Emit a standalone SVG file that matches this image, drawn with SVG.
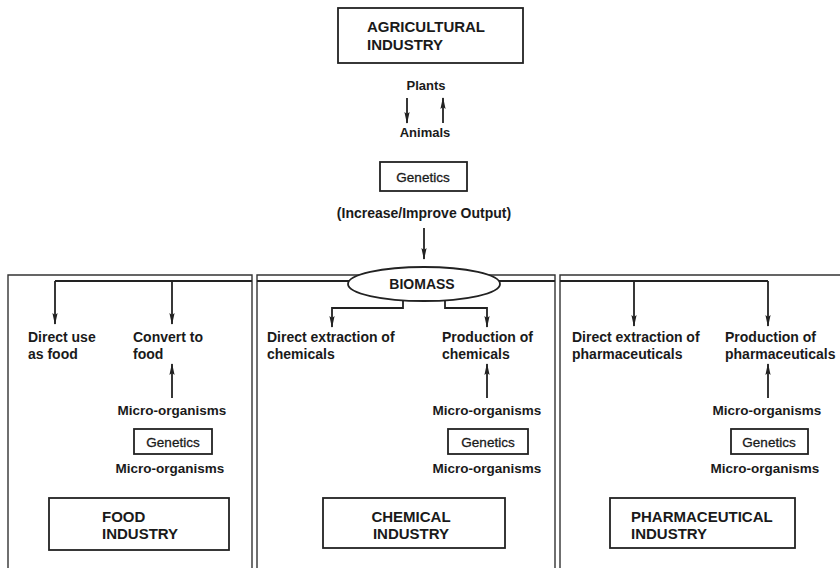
<svg xmlns="http://www.w3.org/2000/svg" width="840" height="568" viewBox="0 0 840 568">
  <style>
    .bg { fill: #ffffff; }
    .box { fill: #ffffff; stroke: #222; stroke-width: 1.8; }
    .panel { fill: none; stroke: #333; stroke-width: 1.4; }
    .line { fill: none; stroke: #222; stroke-width: 1.8; }
    .arrow { fill: none; stroke: #222; stroke-width: 1.8; marker-end: url(#head); }
    text { font-family: "Liberation Sans", Arial, sans-serif; font-weight: bold; fill: #1a1a1a; }
    .title { font-size: 15px; }
    .label { font-size: 14px; }
    .small { font-size: 13px; }
    .micro { font-size: 13.5px; text-anchor: middle; }
    .gen { font-size: 13.5px; text-anchor: middle; font-weight: normal; stroke: #1a1a1a; stroke-width: 0.3; }
    .mid { text-anchor: middle; }
  </style>
  <defs>
    <marker id="head" viewBox="0 0 12 6" refX="11" refY="3" markerWidth="12" markerHeight="6" markerUnits="userSpaceOnUse" orient="auto">
      <path d="M0,0.4 L12,3 L0,5.6 L2,3 z" fill="#222"/>
    </marker>
  </defs>
  <rect class="bg" x="0" y="0" width="840" height="568"/>

  <!-- industry panels (open at the bottom) -->
  <g id="panels">
    <path class="panel" d="M8,572 V275 H252 V572"/>
    <path class="panel" d="M257,572 V275 H555 V572"/>
    <path class="panel" d="M560,572 V275 H845"/>
  </g>

  <!-- connectors -->
  <g id="connectors">
    <path class="arrow" d="M407,98 V123"/>
    <path class="arrow" d="M443,123 V98"/>
    <path class="arrow" d="M424,228 V259"/>
    <!-- biomass distribution line -->
    <path class="line" d="M55,281 H252 M257,281 H555 M560,281 H768"/>
    <path class="arrow" d="M55,281 V324"/>
    <path class="arrow" d="M172,281 V324"/>
    <path class="arrow" d="M403,298 V308 H332 V327"/>
    <path class="arrow" d="M445,298 V308 H487 V327"/>
    <path class="arrow" d="M634,281 V326"/>
    <path class="arrow" d="M768,281 V326"/>
    <!-- micro-organism feeds -->
    <path class="arrow" d="M172,398 V364"/>
    <path class="arrow" d="M487,398 V364"/>
    <path class="arrow" d="M768,398 V364"/>
  </g>

  <g id="agricultural">
    <rect class="box" x="338" y="8" width="185" height="55"/>
    <text class="title" x="367" y="32">AGRICULTURAL</text>
    <text class="title" x="367" y="50">INDUSTRY</text>
  </g>

  <g id="plants">
    <text class="small mid" x="426" y="90">Plants</text>
  </g>
  <g id="animals">
    <text class="small mid" x="425" y="137">Animals</text>
  </g>

  <g id="genetics-top">
    <rect class="box" x="380" y="162" width="87" height="29"/>
    <text class="gen" x="423" y="182">Genetics</text>
  </g>

  <g id="output">
    <text class="label mid" x="424" y="218">(Increase/Improve Output)</text>
  </g>

  <g id="biomass">
    <ellipse class="box" cx="424" cy="284" rx="76" ry="17"/>
    <text class="label mid" x="422" y="289">BIOMASS</text>
  </g>

  <!-- food panel -->
  <g id="direct-food">
    <text class="label" x="28" y="342">Direct use</text>
    <text class="label" x="28" y="359">as food</text>
  </g>
  <g id="convert-food">
    <text class="label" x="133" y="342">Convert to</text>
    <text class="label" x="133" y="359">food</text>
  </g>
  <g id="micro-food">
    <text class="micro" x="172" y="415">Micro-organisms</text>
    <rect class="box" x="134" y="429" width="78" height="25"/>
    <text class="gen" x="173" y="447">Genetics</text>
    <text class="micro" x="170" y="473">Micro-organisms</text>
  </g>
  <g id="food-industry">
    <rect class="box" x="49" y="498" width="180" height="52"/>
    <text class="title" x="102" y="522">FOOD</text>
    <text class="title" x="102" y="539">INDUSTRY</text>
  </g>

  <!-- chemical panel -->
  <g id="direct-chem">
    <text class="label" x="267" y="342">Direct extraction of</text>
    <text class="label" x="267" y="359">chemicals</text>
  </g>
  <g id="prod-chem">
    <text class="label" x="442" y="342">Production of</text>
    <text class="label" x="442" y="359">chemicals</text>
  </g>
  <g id="micro-chem">
    <text class="micro" x="487" y="415">Micro-organisms</text>
    <rect class="box" x="448" y="429" width="80" height="25"/>
    <text class="gen" x="488" y="447">Genetics</text>
    <text class="micro" x="487" y="473">Micro-organisms</text>
  </g>
  <g id="chemical-industry">
    <rect class="box" x="323" y="498" width="182" height="50"/>
    <text class="title mid" x="411" y="522">CHEMICAL</text>
    <text class="title mid" x="411" y="539">INDUSTRY</text>
  </g>

  <!-- pharmaceutical panel -->
  <g id="direct-pharma">
    <text class="label" x="572" y="342">Direct extraction of</text>
    <text class="label" x="572" y="359">pharmaceuticals</text>
  </g>
  <g id="prod-pharma">
    <text class="label" x="725" y="342">Production of</text>
    <text class="label" x="725" y="359">pharmaceuticals</text>
  </g>
  <g id="micro-pharma">
    <text class="micro" x="767" y="415">Micro-organisms</text>
    <rect class="box" x="731" y="429" width="77" height="25"/>
    <text class="gen" x="769" y="447">Genetics</text>
    <text class="micro" x="765" y="473">Micro-organisms</text>
  </g>
  <g id="pharma-industry">
    <rect class="box" x="610" y="498" width="185" height="50"/>
    <text class="title" x="631" y="522">PHARMACEUTICAL</text>
    <text class="title" x="631" y="539">INDUSTRY</text>
  </g>
</svg>
